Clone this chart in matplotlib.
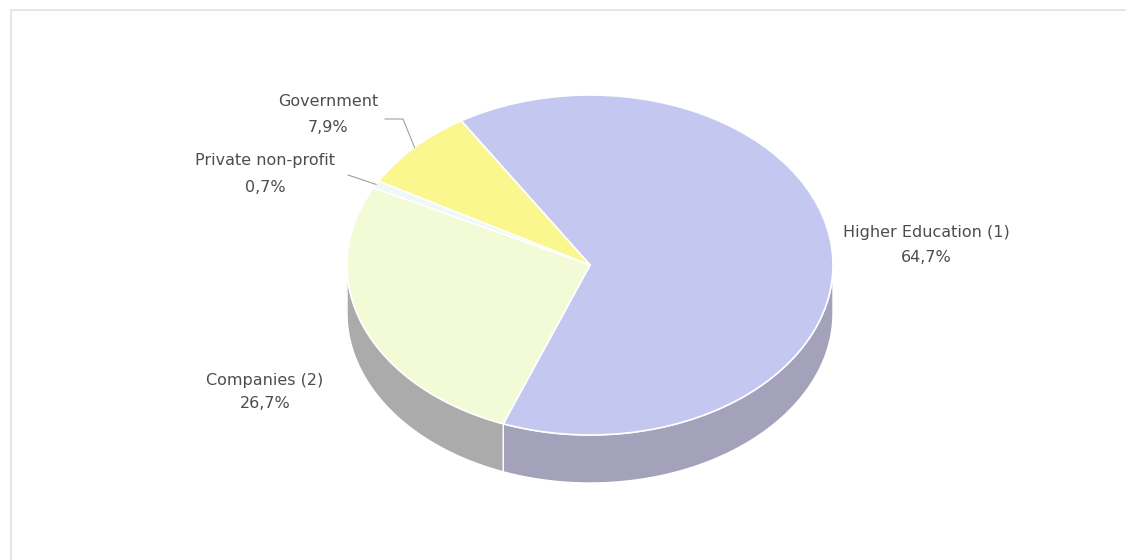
import numpy as np
import matplotlib

matplotlib.use("Agg")
import matplotlib.pyplot as plt
from matplotlib.lines import Line2D
from matplotlib.patches import Polygon

# R&D expenditure by sector of performance
sectors = ["Higher Education (1)", "Companies (2)", "Private non-profit", "Government"]
shares = [64.7, 26.7, 0.7, 7.9]
share_text = ["64,7%", "26,7%", "0,7%", "7,9%"]

top_colors = ["#c4c8f1", "#f3fbd6", "#eef8f6", "#fbf78f"]
side_colors = ["#a4a1bb", "#ababab", "#c8d0d0", "#c8c470"]

W, H = 1126, 560
CX, CY = 590, 265        # pie centre, pixels from top-left
RX, RY = 243, 170        # ellipse half-axes, pixels
DEPTH = 48               # thickness of the disc, pixels
START = 122
TEXT = "#4d4d4d"
LEADER = "#a0a0a0"


def px(x, y):
    """Pixel position (from top-left) to pie data units."""
    return (x - CX) / RX, (CY - y) / RY


fig = plt.figure(figsize=(W / 100, H / 100), dpi=100)
ax = fig.add_axes([0, 0, 1, 1])

wedges, _ = ax.pie(
    shares,
    colors=top_colors,
    startangle=START,
    counterclock=False,
    wedgeprops=dict(edgecolor="white", linewidth=1.2, zorder=3),
)
ax.set_aspect("auto")
ax.set_xlim(-CX / RX, (W - CX) / RX)
ax.set_ylim(-(H - CY) / RY, CY / RY)
ax.axis("off")

# side wall of the disc: only the front half (180..360 deg) is visible
depth = DEPTH / RY
for wedge, side in zip(wedges, side_colors):
    for k in range(-2, 2):
        lo = max(wedge.theta1, 180 + 360 * k)
        hi = min(wedge.theta2, 360 + 360 * k)
        if hi <= lo:
            continue
        th = np.radians(np.linspace(lo, hi, 80))
        top = np.column_stack([np.cos(th), np.sin(th)])
        bottom = top[::-1] - [0, depth]
        ax.add_patch(Polygon(np.vstack([top, bottom]), closed=True,
                             facecolor=side, edgecolor="white",
                             linewidth=1.0, zorder=2))

# labels
label_pos = {
    "Higher Education (1)": ((926, 232), (926, 257)),
    "Companies (2)": ((265, 380), (265, 404)),
    "Private non-profit": ((265, 161), (265, 187)),
    "Government": ((328, 101), (328, 127)),
}
for name, pct in zip(sectors, share_text):
    (nx, ny), (vx, vy) = label_pos[name]
    ax.text(*px(nx, ny), name, ha="center", va="center",
            fontsize=11.5, color=TEXT, zorder=5)
    ax.text(*px(vx, vy), pct, ha="center", va="center",
            fontsize=11.5, color=TEXT, zorder=5)

# leader lines for the two thin slices
leader_path = {
    "Government": [(403, 119), (385, 119)],
    "Private non-profit": [(348, 175)],
}
for wedge, name in zip(wedges, sectors):
    if name not in leader_path:
        continue
    mid = np.radians((wedge.theta1 + wedge.theta2) / 2)
    pts = [(np.cos(mid), np.sin(mid))] + [px(x, y) for x, y in leader_path[name]]
    xs, ys = zip(*pts)
    ax.plot(xs, ys, color=LEADER, linewidth=0.8, zorder=4)

# faint frame on top and left
fig.add_artist(Line2D([11 / W, 1], [1 - 10 / H, 1 - 10 / H],
                      transform=fig.transFigure, color="#e2e2e2", linewidth=1.2))
fig.add_artist(Line2D([11 / W, 11 / W], [0, 1 - 10 / H],
                      transform=fig.transFigure, color="#e2e2e2", linewidth=1.2))

fig.savefig("out.png", dpi=100, facecolor="white")
plt.close(fig)
